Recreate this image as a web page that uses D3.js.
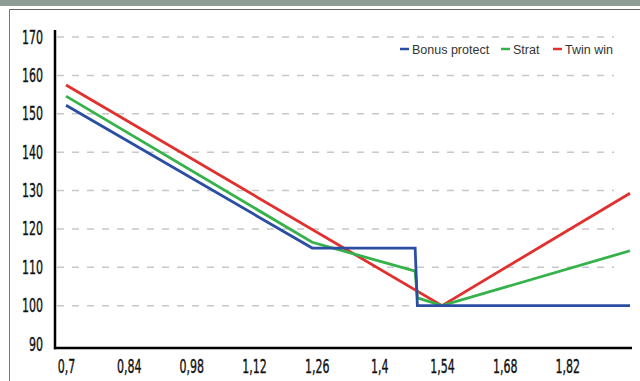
<!DOCTYPE html>
<html>
<head>
<meta charset="utf-8">
<script src="https://cdn.jsdelivr.net/npm/d3@7"></script>
<style>
  body { margin: 0; background: #fff; }
  .tick-label { font-family: "DejaVu Sans", sans-serif; font-size: 19px; fill: #111; }
  .legend text { font-family: "Liberation Sans", Arial, sans-serif; font-size: 12.5px; fill: #333; }
</style>
</head>
<body>
<div id="chart"></div>
<script>
// Data
var xTicks = [0.7, 0.84, 0.98, 1.12, 1.26, 1.4, 1.54, 1.68, 1.82];
var yTicks = [90, 100, 110, 120, 130, 140, 150, 160, 170];

var seriesNames = ["Bonus protect", "Strat", "Twin win"];
var seriesColors = ["#2b4ea3", "#35b24a", "#e0312e"];

var bonusX = [0.7, 1.25, 1.48, 1.485, 1.96];
var bonusY = [152.2, 115, 115, 100, 100];
var stratX = [0.7, 1.25, 1.48, 1.485, 1.54, 1.96];
var stratY = [154.6, 116.5, 109, 102, 100, 114.3];
var twinX = [0.7, 1.54, 1.96];
var twinY = [157.5, 100, 129.3];

var W = 640, H = 381;
var squeeze = 0.58; // tick font is a narrow one

var svg = d3.select("#chart").append("svg")
  .attr("width", W)
  .attr("height", H);

// frame
svg.append("rect").attr("x", 0).attr("y", 0).attr("width", W).attr("height", 6).attr("fill", "#8e9c96");
svg.append("line").attr("x1", 9.5).attr("x2", W).attr("y1", 9.5).attr("y2", 9.5).attr("stroke", "#666").attr("stroke-width", 1);
svg.append("line").attr("x1", 9.5).attr("x2", 9.5).attr("y1", 9.5).attr("y2", H).attr("stroke", "#777").attr("stroke-width", 1);

// scales
var xScale = d3.scaleLinear().domain([0.7, 1.96]).range([66, 630]);
var yScale = d3.scaleLinear().domain([90, 170]).range([344, 37]);

// gridlines
svg.append("g").selectAll("line")
  .data(yTicks.filter(function(d) { return d > 90; }))
  .enter().append("line")
  .attr("x1", 57).attr("x2", 614)
  .attr("y1", function(d) { return yScale(d); })
  .attr("y2", function(d) { return yScale(d); })
  .attr("stroke", "#c8c8c8")
  .attr("stroke-width", 1.5)
  .attr("stroke-dasharray", "7,8");

// axes
var yAxis = d3.axisLeft(yScale).tickValues(yTicks).tickSize(0);
var yg = svg.append("g").attr("transform", "translate(55,0)").call(yAxis);
yg.select(".domain").remove();
yg.selectAll("text")
  .attr("class", "tick-label").attr("font-family", null).attr("font-size", null)
  .attr("x", -12 / squeeze)
  .attr("stroke", "#111").attr("stroke-width", 0.4)
  .attr("transform", "scale(" + squeeze + ",1)");

var xAxis = d3.axisBottom(xScale).tickValues(xTicks).tickSize(0).tickPadding(12)
  .tickFormat(function(d) { return String(d).replace(".", ","); });
var xg = svg.append("g").attr("transform", "translate(0,348)").call(xAxis);
xg.select(".domain").remove();
xg.selectAll("text")
  .attr("class", "tick-label").attr("font-family", null).attr("font-size", null)
  .attr("stroke", "#111").attr("stroke-width", 0.4)
  .attr("transform", "scale(" + squeeze + ",1)");

svg.append("line").attr("x1", 55).attr("x2", 55).attr("y1", 30).attr("y2", 349.2)
  .attr("stroke", "#000").attr("stroke-width", 2.5);
svg.append("line").attr("x1", 54).attr("x2", 632).attr("y1", 348).attr("y2", 348)
  .attr("stroke", "#000").attr("stroke-width", 2.5);

// lines
var line = d3.line()
  .x(function(d) { return xScale(d[0]); })
  .y(function(d) { return yScale(d[1]); });

var allSeries = [
  d3.zip(bonusX, bonusY),
  d3.zip(stratX, stratY),
  d3.zip(twinX, twinY)
];

// blue sits on top of the others
var order = [2, 1, 0];
order.forEach(function(i) {
  svg.append("path")
    .datum(allSeries[i])
    .attr("d", line)
    .attr("fill", "none")
    .attr("stroke", seriesColors[i])
    .attr("stroke-width", 2.8);
});

// legend
var legendX = [400, 501, 553];
var legend = svg.append("g").attr("class", "legend");
seriesNames.forEach(function(name, i) {
  legend.append("line")
    .attr("x1", legendX[i]).attr("x2", legendX[i] + 9)
    .attr("y1", 49).attr("y2", 49)
    .attr("stroke", seriesColors[i]).attr("stroke-width", 2.5);
  legend.append("text")
    .attr("x", legendX[i] + 12).attr("y", 54)
    .text(name);
});
</script>
</body>
</html>
